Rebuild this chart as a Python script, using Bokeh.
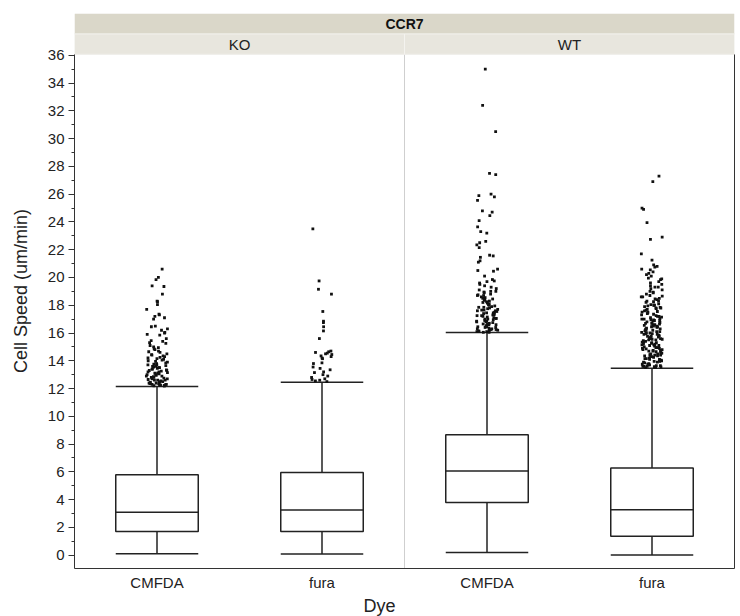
import math
from bokeh.plotting import figure
from bokeh.models import (FactorRange, Range1d, SingleIntervalTicker, LinearAxis,
                          FixedTicker, BoxAnnotation, Label, ColumnDataSource, Title)
from bokeh.transform import dodge
from bokeh.core.properties import value
from bokeh.embed import file_html
from bokeh.resources import INLINE

# ---------------- data ----------------
header_title = "CCR7"
groups = ["KO", "WT"]
dyes = ["CMFDA", "fura"]
x_title = "Dye"
y_title = "Cell Speed (um/min)"

box_group = ["KO", "KO", "WT", "WT"]
box_dye = ["CMFDA", "fura", "CMFDA", "fura"]
whisker_low = [0.1, 0.08, 0.2, 0.02]
q1 = [1.7, 1.7, 3.8, 1.37]
median = [3.1, 3.25, 6.07, 3.28]
q3 = [5.8, 5.95, 8.68, 6.27]
whisker_high = [12.15, 12.45, 16.03, 13.47]

ko_cmfda_out = [20.6, 20.0, 19.85, 19.4, 19.35, 18.8, 18.3, 18.25, 18.05, 17.7, 17.35, 17.3,
                17.2, 17.1, 17.0, 16.5, 16.45, 16.3, 16.2, 16.05, 16.0, 15.9, 15.85, 15.6,
                15.45, 15.4, 15.3, 15.25, 15.1, 15.0, 14.95, 14.85, 14.8, 14.7, 14.65, 14.6,
                14.5, 14.45, 14.4, 14.35, 14.3, 14.25, 14.2, 14.15, 14.1, 14.05, 14.0, 13.95,
                13.9, 13.85, 13.8, 13.75, 13.7, 13.7, 13.65, 13.6, 13.55, 13.5, 13.5, 13.45,
                13.4, 13.35, 13.3, 13.3, 13.25, 13.2, 13.15, 13.1, 13.1, 13.05, 13.0, 12.95,
                12.9, 12.9, 12.85, 12.8, 12.75, 12.7, 12.7, 12.65, 12.6, 12.6, 12.55, 12.5,
                12.5, 12.45, 12.4, 12.4, 12.35, 12.35, 12.3, 12.3, 12.25, 12.25, 12.2, 12.2, 12.2,
                13.6, 13.4, 13.2, 13.0, 12.8, 12.6, 12.45, 12.3, 12.25]
ko_fura_out = [23.5, 19.75, 19.15, 18.8, 17.55, 16.85, 16.75, 16.45, 16.15, 15.6, 14.7, 14.65,
               14.6, 14.55, 14.5, 14.45, 14.35, 14.3, 14.2, 14.15, 13.85, 13.8, 13.55, 13.45,
               13.35, 13.2, 13.15, 13.0, 12.9, 12.8, 12.7, 12.65, 12.6, 12.55, 12.5]
wt_cmfda_out = [35.0, 32.4, 30.5, 27.5, 27.4, 26.0, 25.9, 25.8, 25.55, 24.8, 24.7, 24.45, 24.1,
                23.65, 23.3, 23.2, 22.6, 22.5, 22.35, 22.15, 21.6, 21.55, 21.45, 21.2, 21.1,
                20.6, 20.5, 20.45, 20.1, 19.85, 19.75, 19.7, 19.6, 19.4, 19.3, 19.2, 19.1, 19.0,
                18.95, 18.9, 18.8, 18.75, 18.7, 18.6, 18.55, 18.5, 18.4, 18.35, 18.3, 18.2,
                18.15, 18.1, 18.0, 17.95, 17.9, 17.85, 17.8, 17.75, 17.7, 17.65, 17.6, 17.6,
                17.55, 17.5, 17.45, 17.4, 17.35, 17.3, 17.3, 17.25, 17.2, 17.15, 17.1, 17.05,
                17.0, 17.0, 16.95, 16.9, 16.85, 16.8, 16.8, 16.75, 16.7, 16.65, 16.6, 16.6,
                16.55, 16.5, 16.45, 16.4, 16.4, 16.35, 16.3, 16.3, 16.25, 16.2, 16.2, 16.15,
                16.1, 16.1, 16.05,
                19.5, 19.0, 18.7, 18.45, 18.25, 18.05, 17.85, 17.65, 17.45, 17.25, 17.05,
                16.85, 16.65, 16.45, 16.25, 16.1, 16.05]
wt_fura_out = [27.3, 26.9, 25.0, 24.9, 23.95, 22.9, 22.75, 21.7, 21.25, 20.9, 20.8, 20.75,
               20.6, 20.55, 20.3, 20.2, 20.1, 19.95, 19.85, 19.7, 19.6, 19.5, 19.4, 19.3, 19.2,
               19.1, 19.0, 18.95, 18.9, 18.8, 18.7, 18.65, 18.6, 18.5, 18.45, 18.4, 18.3, 18.25,
               18.2, 18.1, 18.05, 18.0, 17.95, 17.9, 17.85, 17.8, 17.75, 17.7, 17.65, 17.6,
               17.55, 17.5, 17.45, 17.4, 17.35, 17.3, 17.25, 17.2, 17.15, 17.1, 17.05, 17.0,
               16.95, 16.9, 16.85, 16.8, 16.75, 16.7, 16.65, 16.6, 16.55, 16.5, 16.45, 16.4,
               16.35, 16.3, 16.25, 16.2, 16.15, 16.1, 16.05, 16.0, 15.95, 15.9, 15.85, 15.8,
               15.75, 15.7, 15.65, 15.6, 15.55, 15.5, 15.45, 15.4, 15.35, 15.3, 15.25, 15.2,
               15.15, 15.1, 15.05, 15.0, 14.95, 14.9, 14.85, 14.8, 14.75, 14.7, 14.65, 14.6,
               14.55, 14.5, 14.45, 14.4, 14.35, 14.3, 14.25, 14.2, 14.15, 14.1, 14.05, 14.0,
               13.95, 13.9, 13.85, 13.8, 13.75, 13.7, 13.65, 13.6, 13.55, 13.5,
               16.9, 16.6, 16.3, 16.1, 15.9, 15.7, 15.5, 15.3, 15.1, 14.9, 14.7, 14.5, 14.3,
               14.1, 13.9, 13.7, 13.6, 13.55,
               17.8, 17.5, 17.2, 16.95, 16.7, 16.45, 16.2, 15.95, 15.75, 15.55, 15.35, 15.15,
               14.95, 14.75, 14.55, 14.35, 14.15, 13.95, 13.75, 13.65, 13.55, 13.5, 18.6,
               18.3, 18.0, 19.3, 19.9, 20.4, 17.0, 16.5, 16.0, 15.6, 15.2, 14.8, 14.4, 14.0, 13.6]
outliers = {("KO", "CMFDA"): ko_cmfda_out, ("KO", "fura"): ko_fura_out,
            ("WT", "CMFDA"): wt_cmfda_out, ("WT", "fura"): wt_fura_out}

# ---------------- layout constants ----------------
Y_MIN, Y_MAX = -0.96, 36.07
HEADER_ROW = 1.47
FRAME_W, FRAME_H = 660, 555
FONT = "Liberation Sans"
DARK = "#222222"
BOX_W = 0.5
JIT_W = 0.13

xr = FactorRange(factors=[(g, d) for g in groups for d in dyes],
                 factor_padding=0, group_padding=0, range_padding=0)
p = figure(x_range=xr, y_range=Range1d(Y_MIN, Y_MAX + 2 * HEADER_ROW),
           frame_width=FRAME_W, frame_height=FRAME_H,
           min_border_left=74, min_border_right=6, min_border_top=13, min_border_bottom=48,
           output_backend="svg", toolbar_location=None)
p.outline_line_color = None
p.xgrid.visible = False
p.ygrid.visible = False
p.background_fill_color = "white"

# panel frames (light dividers)
p.rect(x=groups, y=(Y_MIN + Y_MAX) / 2, width=len(dyes), height=Y_MAX - Y_MIN,
       fill_color=None, line_color="#cfcfcf", line_width=1)

# header bands
p.add_layout(BoxAnnotation(bottom=Y_MAX + HEADER_ROW, fill_color="#dad7c9", fill_alpha=1,
                           line_color="#efeee9", line_width=1, level="underlay"))
p.rect(x=groups, y=Y_MAX + HEADER_ROW / 2, width=len(dyes), height=HEADER_ROW,
       fill_color="#e8e6de", line_color="#f4f3ef", line_width=1)
p.text(x=groups, y=[Y_MAX + HEADER_ROW / 2] * len(groups), text=groups,
       text_align="center", text_baseline="middle", text_font=value(FONT),
       text_font_size="15px", text_color=DARK)
p.add_layout(Label(x=FRAME_W / 2, x_units="screen", y=Y_MAX + 1.5 * HEADER_ROW,
                   text=header_title, text_align="center", text_baseline="middle",
                   text_font=FONT, text_font_size="14px", text_font_style="bold",
                   text_color="#111111"))

# boxes
src = ColumnDataSource(dict(x=list(zip(box_group, box_dye)), low=whisker_low, q1=q1,
                            med=median, q3=q3, high=whisker_high))
lk = dict(line_color=DARK, line_width=1.5)
p.segment(x0="x", y0="q3", x1="x", y1="high", source=src, **lk)
p.segment(x0="x", y0="low", x1="x", y1="q1", source=src, **lk)
p.vbar(x="x", width=BOX_W, bottom="q1", top="q3", source=src, fill_color="white", **lk)
for col in ["high", "low", "med"]:
    p.segment(x0=dodge("x", -BOX_W / 2, range=xr), x1=dodge("x", BOX_W / 2, range=xr),
              y0=col, y1=col, source=src, **lk)

# outliers with deterministic (hash-based) horizontal jitter
ox, oy = [], []
for k, ((g, d), vals) in enumerate(outliers.items()):
    for i, v in enumerate(vals):
        h = math.sin((i + 1) * 12.9898 + (k + 1) * 78.233) * 43758.5453
        off = ((h - math.floor(h)) - 0.5) * JIT_W
        ox.append((g, d, off))
        oy.append(v)
p.scatter(x=ox, y=oy, marker="square", size=2.8, fill_color="#111111", line_color=None)

# axes
ya = p.yaxis[0]
ya.bounds = (Y_MIN, Y_MAX)
ya.ticker = SingleIntervalTicker(interval=2, num_minor_ticks=2)
ya.axis_line_color = "#333333"
ya.major_tick_line_color = "#333333"
ya.minor_tick_line_color = "#333333"
ya.major_tick_out, ya.major_tick_in = 6, 0
ya.minor_tick_out, ya.minor_tick_in = 3, 0
ya.major_label_text_font = FONT
ya.major_label_text_font_size = "15px"
ya.major_label_text_color = DARK
ya.major_label_standoff = 4
ya.axis_label = y_title
ya.axis_label_text_font = FONT
ya.axis_label_text_font_size = "18px"
ya.axis_label_text_font_style = "normal"
ya.axis_label_text_color = DARK
ya.axis_label_standoff = 14

xa = p.xaxis[0]
xa.axis_line_color = "#333333"
xa.major_tick_out, xa.major_tick_in = 0, 0
xa.major_tick_line_color = None
xa.major_label_text_font = FONT
xa.major_label_text_font_size = "15px"
xa.major_label_text_color = DARK
xa.major_label_standoff = 5
xa.group_text_font_size = "1px"
xa.group_text_color = None
xa.separator_line_color = None
xa.major_label_orientation = "horizontal"

ra = LinearAxis(bounds=(Y_MIN, Y_MAX), ticker=FixedTicker(ticks=[]),
                major_label_text_font_size="1px", axis_line_color="#333333",
                major_tick_out=0, minor_tick_out=0, major_label_standoff=0)
p.add_layout(ra, "right")

p.add_layout(Title(text=x_title, align="left", offset=289, standoff=0,
                   text_font=FONT, text_font_size="18px", text_font_style="normal",
                   text_color=DARK), "below")

open("out.html", "w").write(file_html(p, INLINE))
